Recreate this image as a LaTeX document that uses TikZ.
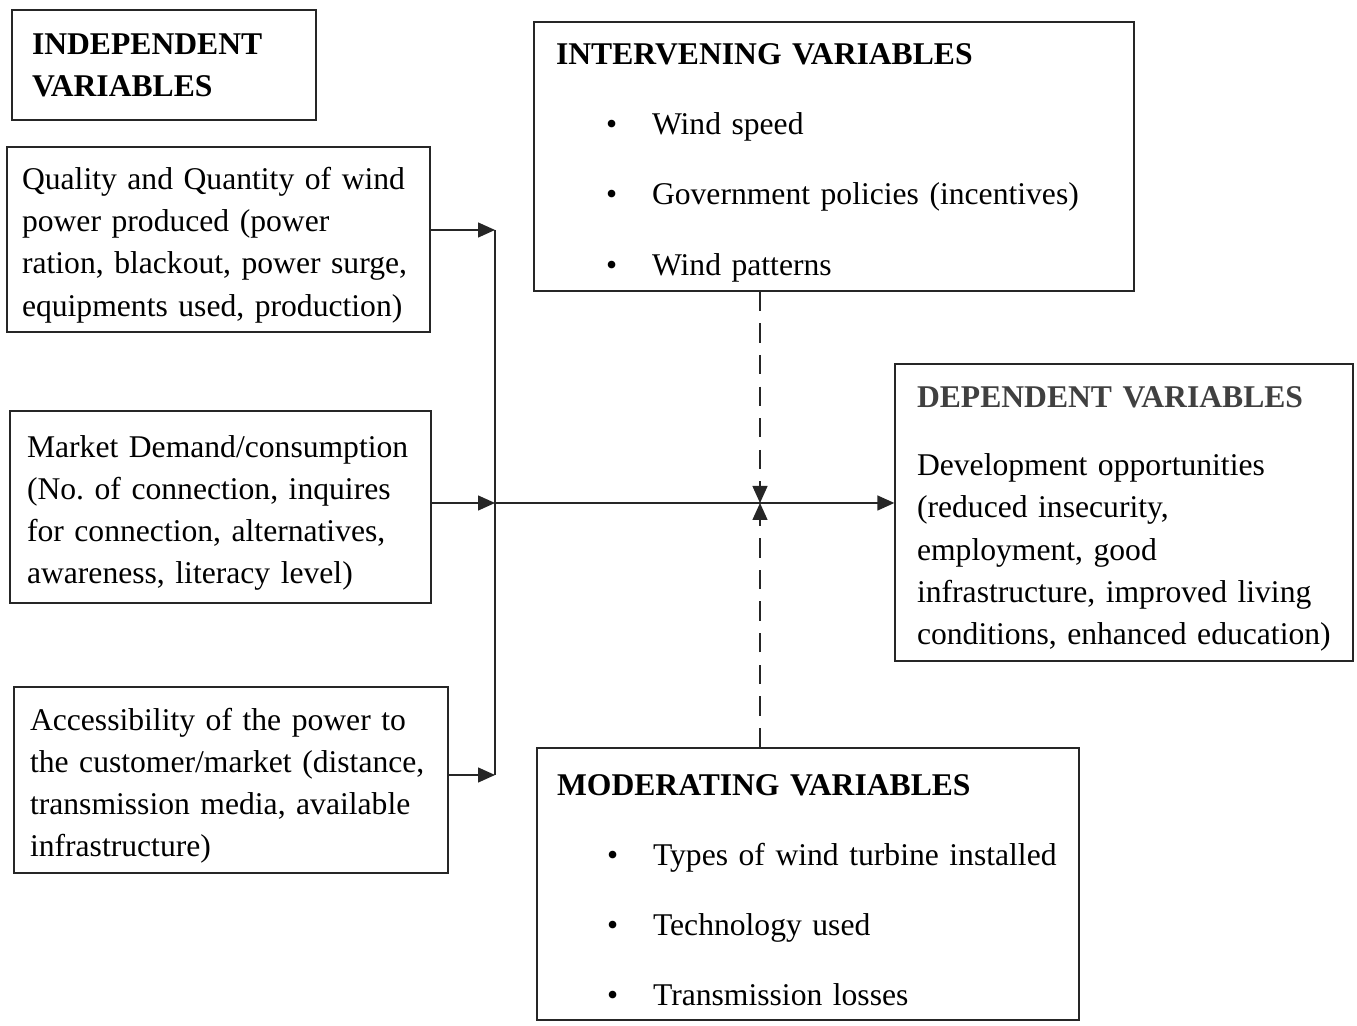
\documentclass[tikz,border=0pt]{standalone}
\usepackage{fontspec}
\setmainfont{Liberation Serif}
\usepackage{tikz}
\usetikzlibrary{arrows.meta,positioning,calc}
\tikzset{
  >={Triangle[length=3.4mm,width=3mm]},
  vframe/.style={draw=black!85, line width=0.8pt, align=left, inner ysep=0pt,
               font=\fontsize{18}{24}\selectfont\frenchspacing},
  vbox/.style={vframe, execute at begin node={\rule{0pt}{19pt}}},
  vline/.style={black!85, line width=0.8pt},
  vconn/.style={->, black!85, line width=0.8pt},
  vdash/.style={->, black!85, line width=0.8pt, dash pattern=on 11pt off 7pt},
}
\newcommand{\vitem}[1]{\hspace*{1cm}\makebox[0.92cm][l]{\textbullet}#1}

\begin{document}
\begin{tikzpicture}[x=0.02cm,y=-0.02cm]
  \useasboundingbox (0,0) rectangle (1357,1026);

  % independent side
  \node[vframe, inner xsep=0.4cm, text width=5.28cm, minimum height=2.2cm] (indep) at (164,65)
        {\textbf{INDEPENDENT}\\\textbf{VARIABLES}};
  \node[vbox, inner xsep=0.3cm, text width=7.86cm, minimum height=3.7cm] (qual) at (218.5,239.5)
        {Quality and Quantity of wind\\ power produced (power\\ ration, blackout, power surge,\\ equipments used, production)};
  \node[vbox, inner xsep=0.34cm, text width=7.74cm, minimum height=3.84cm] (mkt) at (220.5,507)
        {Market Demand/consumption\\ (No. of connection, inquires\\ for connection, alternatives,\\ awareness, literacy level)};
  \node[vbox, inner xsep=0.32cm, text width=8.04cm, minimum height=3.72cm] (acc) at (231,780)
        {Accessibility of the power to\\ the customer/market (distance,\\ transmission media, available\\ infrastructure)};

  % intervening, dependent, moderating
  \node[vbox, inner xsep=0.44cm, text width=11.12cm, minimum height=5.38cm] (inter) at (834,156.5)
        {\textbf{INTERVENING VARIABLES}\\[16pt]\vitem{Wind speed}\\[16pt]
         \vitem{Government policies (incentives)}\\[16pt]\vitem{Wind patterns}};
  \node[vbox, inner xsep=0.44cm, text width=8.28cm, minimum height=5.94cm] (dep) at (1124,512.5)
        {\textcolor{black!75}{\textbf{DEPENDENT VARIABLES}}\\[15pt]Development opportunities\\
         (reduced insecurity,\\ employment, good\\ infrastructure, improved living\\
         conditions, enhanced education)};
  \node[vbox, inner xsep=0.4cm, text width=10.04cm, minimum height=5.44cm] (mod) at (808,884)
        {\textbf{MODERATING VARIABLES}\\[16pt]\vitem{Types of wind turbine installed}\\[16pt]
         \vitem{Technology used}\\[16pt]\vitem{Transmission losses}};

  \coordinate (j1) at (495,230);
  \coordinate (j2) at (495,503);
  \coordinate (j3) at (495,775);
  \coordinate (hub) at (760,503);

  \draw[vconn] (qual.east |- j1) -- (j1);
  \draw[vconn] (mkt.east |- j2) -- (j2);
  \draw[vconn] (acc.east |- j3) -- (j3);
  \draw[vline] (j1) -- (j3);
  \draw[vconn] (j2) -- (dep.west |- j2);
  \draw[vdash] (inter.south -| hub) -- (hub);
  \draw[vdash] (mod.north -| hub) -- (hub);

\end{tikzpicture}
\end{document}
